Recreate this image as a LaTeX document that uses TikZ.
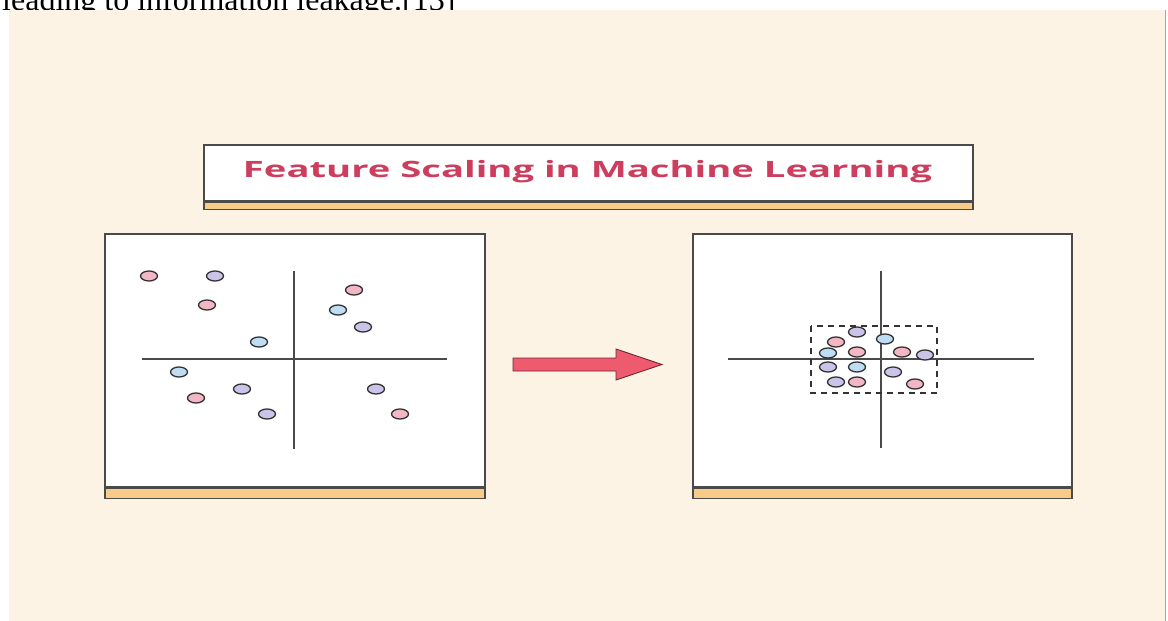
\documentclass[tikz,border=0pt]{standalone}
\usepackage{fontspec}
\setmainfont{Liberation Serif}
\newfontfamily\titlefont{Open Sans}
\usetikzlibrary{shapes.geometric}

\definecolor{cream}{HTML}{FDF3E4}
\definecolor{cardline}{HTML}{4A4A4A}
\definecolor{bandfill}{HTML}{F8CB88}
\definecolor{titlered}{HTML}{CC3D5E}
\definecolor{dotline}{HTML}{333333}
\definecolor{pinkdot}{HTML}{F3B6C4}
\definecolor{purpledot}{HTML}{CBC3E8}
\definecolor{bluedot}{HTML}{BEDDF2}
\definecolor{arrowfill}{HTML}{EE5A6E}
\definecolor{arrowline}{HTML}{6B2A33}

\begin{document}
\begin{tikzpicture}[x=1pt,y=-1pt,
  cardbox/.style={rectangle, fill=white, draw=cardline, line width=1.5pt, inner sep=0pt, anchor=north west},
  band/.style={rectangle, fill=bandfill, draw=cardline, line width=1.5pt, inner sep=0pt, anchor=north west},
  axis/.style={draw=cardline, line width=1.4pt},
  dot/.style={ellipse, draw=dotline, line width=1.3pt, minimum width=17pt, minimum height=10pt, inner sep=0pt},
  pk/.style={dot, fill=pinkdot},
  pu/.style={dot, fill=purpledot},
  bl/.style={dot, fill=bluedot},
  zone/.style={draw=dotline, line width=1.1pt, dash pattern=on 6pt off 5pt}
]
\useasboundingbox (0,0) rectangle (1168,621);
\fill[white] (0,0) rectangle (1168,621);

% line of body text above the figure, cut by the page edge
\begin{scope}
  \clip (0,0) rectangle (1168,621);
  \node[anchor=base west, inner sep=0pt, font=\fontsize{32}{36}\selectfont] (lead) at (2,10) {leading to information leakage.[13]};
\end{scope}

% cream backdrop
\fill[cream] (9,10) rectangle (1165,621);
\draw[gray!70, line width=0.8pt] (1165,10) -- (1165,621);

% title card
\node[cardbox, minimum width=769pt, minimum height=56pt] (titlebox) at (203,144) {};
\node[band, minimum width=769pt, minimum height=7pt] (titleband) at (titlebox.south west) {};
\node[anchor=base, inner sep=0pt, text=titlered, font=\titlefont\bfseries\fontsize{22.5}{26}\selectfont] (title) at (587.5,177)
  {\resizebox{689pt}{\height}{Feature Scaling in Machine Learning}};

% left panel: raw features
\node[cardbox, minimum width=380pt, minimum height=253pt] (leftpanel) at (104,233) {};
\node[band, minimum width=380pt, minimum height=10pt] (leftband) at (leftpanel.south west) {};
\coordinate (lvt) at (294,271); \coordinate (lvb) at (294,449);
\coordinate (lhl) at (142,359); \coordinate (lhr) at (447,359);
\draw[axis] (lvt) -- (lvb);
\draw[axis] (lhl) -- (lhr);

\node[pk] (a1)  at (149,276) {};
\node[pu] (a2)  at (215,276) {};
\node[pk] (a3)  at (207,305) {};
\node[bl] (a4)  at (259,342) {};
\node[pk] (a5)  at (354,290) {};
\node[bl] (a6)  at (338,310) {};
\node[pu] (a7)  at (363,327) {};
\node[bl] (a8)  at (179,372) {};
\node[pu] (a9)  at (242,389) {};
\node[pk] (a10) at (196,398) {};
\node[pu] (a11) at (267,414) {};
\node[pu] (a12) at (376,389) {};
\node[pk] (a13) at (400,414) {};

% right panel: scaled features
\node[cardbox, minimum width=379pt, minimum height=253pt] (rightpanel) at (692,233) {};
\node[band, minimum width=379pt, minimum height=10pt] (rightband) at (rightpanel.south west) {};
\coordinate (rvt) at (881,271); \coordinate (rvb) at (881,448);
\coordinate (rhl) at (728,359); \coordinate (rhr) at (1034,359);
\draw[axis] (rvt) -- (rvb);
\draw[axis] (rhl) -- (rhr);
\coordinate (zonetl) at (811,326); \coordinate (zonebr) at (937,393);
\draw[zone] (zonetl) rectangle (zonebr);

\node[pu] (b1)  at (857,332) {};
\node[pk] (b2)  at (836,342) {};
\node[bl] (b3)  at (885,339) {};
\node[bl] (b4)  at (828,353) {};
\node[pk] (b5)  at (857,352) {};
\node[pk] (b6)  at (902,352) {};
\node[pu] (b7)  at (925,355) {};
\node[pu] (b8)  at (828,367) {};
\node[bl] (b9)  at (857,367) {};
\node[pu] (b10) at (893,372) {};
\node[pu] (b11) at (836,382) {};
\node[pk] (b12) at (857,382) {};
\node[pk] (b13) at (915,384) {};

% block arrow between the panels
\coordinate (arrowtail) at (513,364.5);
\coordinate (arrowtip) at (662,364.5);
\filldraw[fill=arrowfill, draw=arrowline, line width=0.9pt, line join=miter]
  (513,358) -- (616,358) -- (616,349) -- (arrowtip)
  -- (616,380) -- (616,371) -- (513,371) -- cycle;
\end{tikzpicture}
\end{document}
